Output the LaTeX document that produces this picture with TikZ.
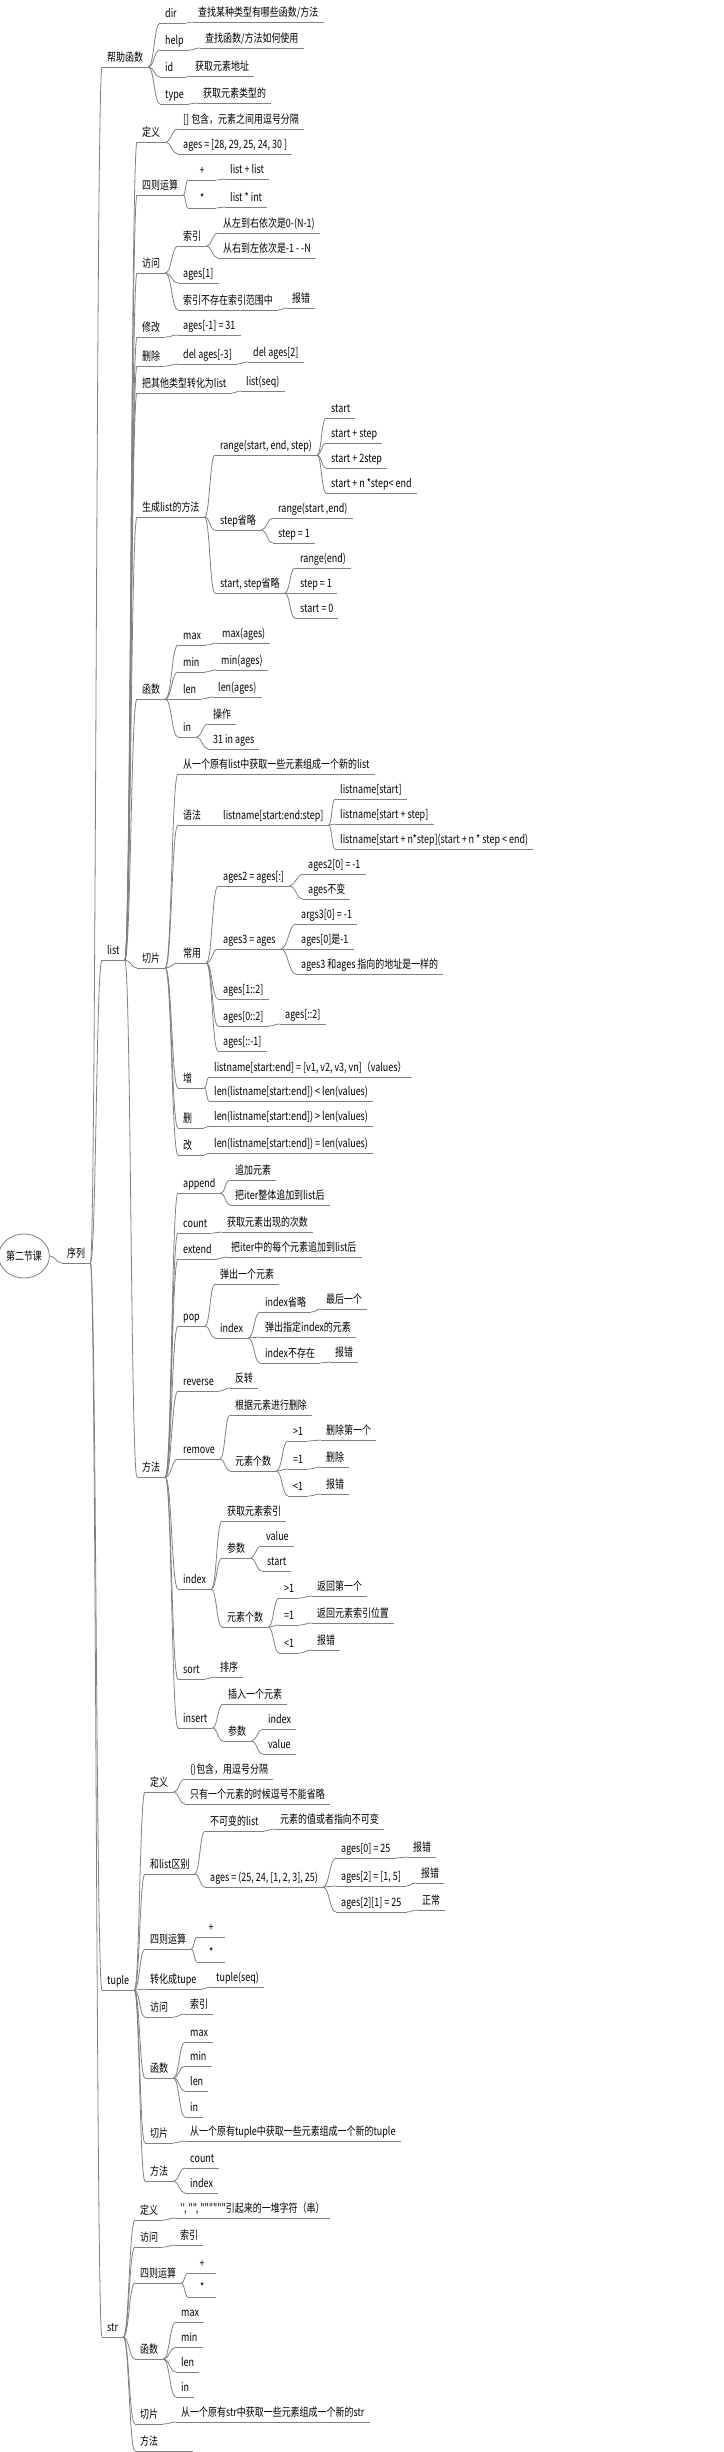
\documentclass[tikz,border=0pt]{standalone}
\usepackage{fontspec}
\setmainfont{Noto Sans CJK SC}[FakeStretch=0.78,Ligatures=TeXOff]
\usepackage{tikz}
\usetikzlibrary{calc,shapes.geometric}
\definecolor{linegray}{RGB}{128,128,128}

\tikzset{
  mm/.style={anchor=south west,inner xsep=5pt,inner ysep=3pt,
    text height=9pt,text depth=2.5pt,font=\fontsize{11.5}{13}\selectfont,
    append after command={(\tikzlastnode.south west) edge[draw=linegray,line width=0.8pt] (\tikzlastnode.south east)}},
  shortbox/.style={text width=16pt},
  symbox/.style={minimum width=28pt},
  link/.style={draw=linegray,line width=0.8pt,
    to path={let \p1=(\tikztostart), \p2=(\tikztotarget) in
      .. controls ({0.5*\x1+0.5*\x2},\y1) and ({0.5*\x1+0.5*\x2},\y2) .. (\tikztotarget)}},
}

\begin{document}
\begin{tikzpicture}[x=1pt,y=-1pt]
\useasboundingbox (0,0) rectangle (723,2452);

    \node[draw=linegray,line width=0.8pt,ellipse,minimum width=48pt,minimum height=44pt,inner sep=0pt,font=\fontsize{11.5}{13}\selectfont] (root) at (24,1256) {第二节课};
    \node[mm] (seq) at (62,1263) {序列};

    % help
    \node[mm] (help)   at (102,67)  {帮助函数};
    \node[mm,shortbox] (hdir) at (160,23) {dir};
    \node[mm] (hdirT)  at (193,22)  {查找某种类型有哪些函数/方法};
    \node[mm] (hhelp)  at (160,50)  {help};
    \node[mm] (hhelpT) at (200,48)  {查找函数/方法如何使用};
    \node[mm,shortbox] (hid) at (160,77) {id};
    \node[mm] (hidT)   at (190,76)  {获取元素地址};
    \node[mm] (htype)  at (160,104) {type};
    \node[mm] (htypeT) at (198,103) {获取元素类型的};

    % list
    \node[mm] (list)    at (102,960) {list};
    \node[mm] (ldef)    at (137,142) {定义};
    \node[mm] (ldefA)   at (178,129) {[] 包含，元素之间用逗号分隔};
    \node[mm] (ldefB)   at (178,154) {ages = [28, 29, 25, 24, 30 ]};
    \node[mm] (lops)    at (137,195) {四则运算};
    \node[mm,symbox] (lplus)  at (188,180) {+};
    \node[mm] (lplusA)  at (225,179) {list + list};
    \node[mm,symbox] (ltimes) at (188,208) {*};
    \node[mm] (ltimesA) at (225,207) {list * int};
    \node[mm] (lget)    at (137,273) {访问};
    \node[mm] (lidx)    at (178,246) {索引};
    \node[mm] (lidxA)   at (218,233) {从左到右依次是0-(N-1)};
    \node[mm] (lidxB)   at (218,258) {从右到左依次是-1 - -N};
    \node[mm] (lgetB)   at (178,283) {ages[1]};
    \node[mm] (lgetC)   at (178,310) {索引不存在索引范围中};
    \node[mm] (lgetCA)  at (287,308) {报错};
    \node[mm] (lset)    at (137,337) {修改};
    \node[mm] (lsetA)   at (178,335) {ages[-1] = 31};
    \node[mm] (ldel)    at (137,366) {删除};
    \node[mm] (ldelA)   at (178,364) {del ages[-3]};
    \node[mm] (ldelAA)  at (248,362) {del ages[2]};
    \node[mm] (lconv)   at (137,393) {把其他类型转化为list};
    \node[mm] (lconvA)  at (241,391) {list(seq)};
    \node[mm] (lgen)    at (137,517) {生成list的方法};
    \node[mm] (lrng)    at (215,455) {range(start, end, step)};
    \node[mm] (lrngA)   at (326,418) {start};
    \node[mm] (lrngB)   at (326,443) {start + step};
    \node[mm] (lrngC)   at (326,468) {start + 2step};
    \node[mm] (lrngD)   at (326,493) {start + n *step< end};
    \node[mm] (lnostep)  at (215,530) {step省略};
    \node[mm] (lnostepA) at (273,518) {range(start ,end)};
    \node[mm] (lnostepB) at (273,543) {step = 1};
    \node[mm] (lnoboth)  at (215,593) {start, step省略};
    \node[mm] (lnobothA) at (295,568) {range(end)};
    \node[mm] (lnobothB) at (295,593) {step = 1};
    \node[mm] (lnobothC) at (295,618) {start = 0};
    \node[mm] (lfun)    at (137,699) {函数};
    \node[mm] (lmax)    at (178,645) {max};
    \node[mm] (lmaxA)   at (217,643) {max(ages)};
    \node[mm] (lmin)    at (178,672) {min};
    \node[mm] (lminA)   at (216,670) {min(ages)};
    \node[mm] (llen)    at (178,699) {len};
    \node[mm] (llenA)   at (213,697) {len(ages)};
    \node[mm] (lin)     at (178,737) {in};
    \node[mm] (linA)    at (208,724) {操作};
    \node[mm] (linB)    at (208,749) {31 in ages};
    \node[mm] (lslice)  at (137,968) {切片};
    \node[mm] (lsl0)    at (178,774) {从一个原有list中获取一些元素组成一个新的list};
    \node[mm] (lsyn)    at (178,825) {语法};
    \node[mm] (lsynA)   at (218,825) {listname[start:end:step]};
    \node[mm] (lsynAA)  at (335,799) {listname[start]};
    \node[mm] (lsynAB)  at (335,824) {listname[start + step]};
    \node[mm] (lsynAC)  at (335,849) {listname[start + n*step](start + n * step < end)};
    \node[mm] (lcom)    at (178,963) {常用};
    \node[mm] (lcomA)   at (218,886) {ages2 = ages[:]};
    \node[mm] (lcomAA)  at (303,874) {ages2[0] = -1};
    \node[mm] (lcomAB)  at (303,899) {ages不变};
    \node[mm] (lcomB)   at (218,949) {ages3 = ages};
    \node[mm] (lcomBA)  at (296,924) {args3[0] = -1};
    \node[mm] (lcomBB)  at (296,949) {ages[0]是-1};
    \node[mm] (lcomBC)  at (296,974) {ages3 和ages 指向的地址是一样的};
    \node[mm] (lcomC)   at (218,999) {ages[1::2]};
    \node[mm] (lcomD)   at (218,1026) {ages[0::2]};
    \node[mm] (lcomDA)  at (280,1024) {ages[::2]};
    \node[mm] (lcomE)   at (218,1051) {ages[::-1]};
    \node[mm,shortbox] (ladd) at (178,1088) {增};
    \node[mm] (laddA)   at (209,1077) {listname[start:end] = [v1, v2, v3, vn]（values）};
    \node[mm] (laddB)   at (209,1101) {len(listname[start:end]) < len(values)};
    \node[mm,shortbox] (lrem) at (178,1128) {删};
    \node[mm] (lremA)   at (209,1126) {len(listname[start:end]) > len(values)};
    \node[mm,shortbox] (lmod) at (178,1155) {改};
    \node[mm] (lmodA)   at (209,1153) {len(listname[start:end]) = len(values)};

    % list methods
    \node[mm] (lmeth)     at (137,1477) {方法};
    \node[mm] (mapp)      at (178,1193) {append};
    \node[mm] (mappA)     at (230,1180) {追加元素};
    \node[mm] (mappB)     at (230,1205) {把iter整体追加到list后};
    \node[mm] (mcnt)      at (178,1233) {count};
    \node[mm] (mcntA)     at (222,1232) {获取元素出现的次数};
    \node[mm] (mext)      at (178,1259) {extend};
    \node[mm] (mextA)     at (226,1257) {把iter中的每个元素追加到list后};
    \node[mm] (mpop)      at (178,1326) {pop};
    \node[mm] (mpopA)     at (215,1284) {弹出一个元素};
    \node[mm] (mpopB)     at (215,1338) {index};
    \node[mm] (mpopBA)    at (260,1312) {index省略};
    \node[mm] (mpopBAA)   at (321,1309) {最后一个};
    \node[mm] (mpopBB)    at (260,1337) {弹出指定index的元素};
    \node[mm] (mpopBC)    at (260,1363) {index不存在};
    \node[mm] (mpopBCA)   at (330,1362) {报错};
    \node[mm] (mrev)      at (178,1391) {reverse};
    \node[mm] (mrevA)     at (230,1388) {反转};
    \node[mm] (mremv)     at (178,1459) {remove};
    \node[mm] (mremvA)    at (230,1415) {根据元素进行删除};
    \node[mm] (mremvB)    at (230,1471) {元素个数};
    \node[mm] (mremvBA)   at (288,1441) {>1};
    \node[mm] (mremvBAA)  at (321,1440) {删除第一个};
    \node[mm] (mremvBB)   at (288,1469) {=1};
    \node[mm] (mremvBBA)  at (321,1467) {删除};
    \node[mm] (mremvBC)   at (288,1496) {<1};
    \node[mm] (mremvBCA)  at (321,1494) {报错};
    \node[mm] (mindex)    at (178,1589) {index};
    \node[mm] (mindexA)   at (222,1521) {获取元素索引};
    \node[mm] (mindexB)   at (222,1558) {参数};
    \node[mm] (mindexBA)  at (261,1546) {value};
    \node[mm] (mindexBB)  at (262,1571) {start};
    \node[mm] (mindexC)   at (222,1627) {元素个数};
    \node[mm] (mindexCA)  at (279,1598) {>1};
    \node[mm] (mindexCAA) at (312,1596) {返回第一个};
    \node[mm] (mindexCB)  at (279,1625) {=1};
    \node[mm] (mindexCBA) at (312,1623) {返回元素索引位置};
    \node[mm] (mindexCC)  at (279,1653) {<1};
    \node[mm] (mindexCCA) at (312,1650) {报错};
    \node[mm] (msort)     at (178,1679) {sort};
    \node[mm] (msortA)    at (215,1677) {排序};
    \node[mm] (mins)      at (178,1728) {insert};
    \node[mm] (minsA)     at (223,1704) {插入一个元素};
    \node[mm] (minsB)     at (223,1741) {参数};
    \node[mm] (minsBA)    at (263,1729) {index};
    \node[mm] (minsBB)    at (263,1754) {value};

    % tuple
    \node[mm] (tuple)    at (102,1990) {tuple};
    \node[mm] (tdef)     at (145,1792) {定义};
    \node[mm] (tdefA)    at (185,1779) {()包含，用逗号分隔};
    \node[mm] (tdefB)    at (185,1804) {只有一个元素的时候逗号不能省略};
    \node[mm] (tdiff)    at (145,1874) {和list区别};
    \node[mm] (tdiffA)   at (205,1831) {不可变的list};
    \node[mm] (tdiffAA)  at (275,1829) {元素的值或者指向不可变};
    \node[mm] (tdiffB)   at (205,1887) {ages = (25, 24, [1, 2, 3], 25)};
    \node[mm] (tdiffBA)  at (336,1858) {ages[0] = 25};
    \node[mm] (tdiffBAA) at (408,1857) {报错};
    \node[mm] (tdiffBB)  at (336,1886) {ages[2] = [1, 5]};
    \node[mm] (tdiffBBA) at (416,1883) {报错};
    \node[mm] (tdiffBC)  at (336,1912) {ages[2][1] = 25};
    \node[mm] (tdiffBCA) at (417,1910) {正常};
    \node[mm] (tops)     at (145,1949) {四则运算};
    \node[mm,symbox] (tplus)  at (197,1937) {+};
    \node[mm,symbox] (ttimes) at (197,1962) {*};
    \node[mm] (tconv)    at (145,1989) {转化成tupe};
    \node[mm] (tconvA)   at (211,1987) {tuple(seq)};
    \node[mm] (tget)     at (145,2017) {访问};
    \node[mm] (tgetA)    at (185,2014) {索引};
    \node[mm] (tfun)     at (145,2078) {函数};
    \node[mm] (tmax)     at (185,2042) {max};
    \node[mm] (tmin)     at (185,2066) {min};
    \node[mm] (tlen)     at (185,2091) {len};
    \node[mm] (tin)      at (185,2117) {in};
    \node[mm] (tslice)   at (145,2143) {切片};
    \node[mm] (tsliceA)  at (185,2141) {从一个原有tuple中获取一些元素组成一个新的tuple};
    \node[mm] (tmeth)    at (145,2181) {方法};
    \node[mm] (tcnt)     at (185,2168) {count};
    \node[mm] (tidx)     at (185,2193) {index};

    % str
    \node[mm] (str)     at (102,2337) {str};
    \node[mm] (sdef)    at (135,2220) {定义};
    \node[mm] (sdefA)   at (175,2218) {'', "", """"""引起来的一堆字符（串）};
    \node[mm] (sget)    at (135,2247) {访问};
    \node[mm] (sgetA)   at (175,2245) {索引};
    \node[mm] (sops)    at (135,2283) {四则运算};
    \node[mm,symbox] (splus)  at (188,2273) {+};
    \node[mm,symbox] (stimes) at (188,2297) {*};
    \node[mm] (sfun)    at (135,2359) {函数};
    \node[mm] (smax)    at (176,2322) {max};
    \node[mm] (smin)    at (176,2347) {min};
    \node[mm] (slen)    at (176,2372) {len};
    \node[mm] (sIn)     at (176,2397) {in};
    \node[mm] (sslice)  at (135,2424) {切片};
    \node[mm] (ssliceA) at (176,2422) {从一个原有str中获取一些元素组成一个新的str};
    \node[mm,text width=48pt] (smeth) at (135,2451) {方法};

    \draw[link] (root.east) to (seq.south west);
    \draw[link] (seq.south east) to (help.south west);
    \draw[link] (seq.south east) to (list.south west);
    \draw[link] (seq.south east) to (tuple.south west);
    \draw[link] (seq.south east) to (str.south west);

    \draw[link] (help.south east) to (hdir.south west);
    \draw[link] (help.south east) to (hhelp.south west);
    \draw[link] (help.south east) to (hid.south west);
    \draw[link] (help.south east) to (htype.south west);
    \draw[link] (hdir.south east) to (hdirT.south west);
    \draw[link] (hhelp.south east) to (hhelpT.south west);
    \draw[link] (hid.south east) to (hidT.south west);
    \draw[link] (htype.south east) to (htypeT.south west);

    \draw[link] (list.south east) to (ldef.south west);
    \draw[link] (list.south east) to (lops.south west);
    \draw[link] (list.south east) to (lget.south west);
    \draw[link] (list.south east) to (lset.south west);
    \draw[link] (list.south east) to (ldel.south west);
    \draw[link] (list.south east) to (lconv.south west);
    \draw[link] (list.south east) to (lgen.south west);
    \draw[link] (list.south east) to (lfun.south west);
    \draw[link] (list.south east) to (lslice.south west);
    \draw[link] (list.south east) to (lmeth.south west);

    \draw[link] (ldef.south east) to (ldefA.south west);
    \draw[link] (ldef.south east) to (ldefB.south west);
    \draw[link] (lops.south east) to (lplus.south west);
    \draw[link] (lops.south east) to (ltimes.south west);
    \draw[link] (lplus.south east) to (lplusA.south west);
    \draw[link] (ltimes.south east) to (ltimesA.south west);
    \draw[link] (lget.south east) to (lidx.south west);
    \draw[link] (lget.south east) to (lgetB.south west);
    \draw[link] (lget.south east) to (lgetC.south west);
    \draw[link] (lidx.south east) to (lidxA.south west);
    \draw[link] (lidx.south east) to (lidxB.south west);
    \draw[link] (lgetC.south east) to (lgetCA.south west);
    \draw[link] (lset.south east) to (lsetA.south west);
    \draw[link] (ldel.south east) to (ldelA.south west);
    \draw[link] (ldelA.south east) to (ldelAA.south west);
    \draw[link] (lconv.south east) to (lconvA.south west);
    \draw[link] (lgen.south east) to (lrng.south west);
    \draw[link] (lgen.south east) to (lnostep.south west);
    \draw[link] (lgen.south east) to (lnoboth.south west);
    \draw[link] (lrng.south east) to (lrngA.south west);
    \draw[link] (lrng.south east) to (lrngB.south west);
    \draw[link] (lrng.south east) to (lrngC.south west);
    \draw[link] (lrng.south east) to (lrngD.south west);
    \draw[link] (lnostep.south east) to (lnostepA.south west);
    \draw[link] (lnostep.south east) to (lnostepB.south west);
    \draw[link] (lnoboth.south east) to (lnobothA.south west);
    \draw[link] (lnoboth.south east) to (lnobothB.south west);
    \draw[link] (lnoboth.south east) to (lnobothC.south west);
    \draw[link] (lfun.south east) to (lmax.south west);
    \draw[link] (lfun.south east) to (lmin.south west);
    \draw[link] (lfun.south east) to (llen.south west);
    \draw[link] (lfun.south east) to (lin.south west);
    \draw[link] (lmax.south east) to (lmaxA.south west);
    \draw[link] (lmin.south east) to (lminA.south west);
    \draw[link] (llen.south east) to (llenA.south west);
    \draw[link] (lin.south east) to (linA.south west);
    \draw[link] (lin.south east) to (linB.south west);
    \draw[link] (lslice.south east) to (lsl0.south west);
    \draw[link] (lslice.south east) to (lsyn.south west);
    \draw[link] (lslice.south east) to (lcom.south west);
    \draw[link] (lslice.south east) to (ladd.south west);
    \draw[link] (lslice.south east) to (lrem.south west);
    \draw[link] (lslice.south east) to (lmod.south west);
    \draw[link] (lsyn.south east) to (lsynA.south west);
    \draw[link] (lsynA.south east) to (lsynAA.south west);
    \draw[link] (lsynA.south east) to (lsynAB.south west);
    \draw[link] (lsynA.south east) to (lsynAC.south west);
    \draw[link] (lcom.south east) to (lcomA.south west);
    \draw[link] (lcom.south east) to (lcomB.south west);
    \draw[link] (lcom.south east) to (lcomC.south west);
    \draw[link] (lcom.south east) to (lcomD.south west);
    \draw[link] (lcom.south east) to (lcomE.south west);
    \draw[link] (lcomA.south east) to (lcomAA.south west);
    \draw[link] (lcomA.south east) to (lcomAB.south west);
    \draw[link] (lcomB.south east) to (lcomBA.south west);
    \draw[link] (lcomB.south east) to (lcomBB.south west);
    \draw[link] (lcomB.south east) to (lcomBC.south west);
    \draw[link] (lcomD.south east) to (lcomDA.south west);
    \draw[link] (ladd.south east) to (laddA.south west);
    \draw[link] (ladd.south east) to (laddB.south west);
    \draw[link] (lrem.south east) to (lremA.south west);
    \draw[link] (lmod.south east) to (lmodA.south west);

    \draw[link] (lmeth.south east) to (mapp.south west);
    \draw[link] (lmeth.south east) to (mcnt.south west);
    \draw[link] (lmeth.south east) to (mext.south west);
    \draw[link] (lmeth.south east) to (mpop.south west);
    \draw[link] (lmeth.south east) to (mrev.south west);
    \draw[link] (lmeth.south east) to (mremv.south west);
    \draw[link] (lmeth.south east) to (mindex.south west);
    \draw[link] (lmeth.south east) to (msort.south west);
    \draw[link] (lmeth.south east) to (mins.south west);
    \draw[link] (mapp.south east) to (mappA.south west);
    \draw[link] (mapp.south east) to (mappB.south west);
    \draw[link] (mcnt.south east) to (mcntA.south west);
    \draw[link] (mext.south east) to (mextA.south west);
    \draw[link] (mpop.south east) to (mpopA.south west);
    \draw[link] (mpop.south east) to (mpopB.south west);
    \draw[link] (mpopB.south east) to (mpopBA.south west);
    \draw[link] (mpopB.south east) to (mpopBB.south west);
    \draw[link] (mpopB.south east) to (mpopBC.south west);
    \draw[link] (mpopBA.south east) to (mpopBAA.south west);
    \draw[link] (mpopBC.south east) to (mpopBCA.south west);
    \draw[link] (mrev.south east) to (mrevA.south west);
    \draw[link] (mremv.south east) to (mremvA.south west);
    \draw[link] (mremv.south east) to (mremvB.south west);
    \draw[link] (mremvB.south east) to (mremvBA.south west);
    \draw[link] (mremvB.south east) to (mremvBB.south west);
    \draw[link] (mremvB.south east) to (mremvBC.south west);
    \draw[link] (mremvBA.south east) to (mremvBAA.south west);
    \draw[link] (mremvBB.south east) to (mremvBBA.south west);
    \draw[link] (mremvBC.south east) to (mremvBCA.south west);
    \draw[link] (mindex.south east) to (mindexA.south west);
    \draw[link] (mindex.south east) to (mindexB.south west);
    \draw[link] (mindex.south east) to (mindexC.south west);
    \draw[link] (mindexB.south east) to (mindexBA.south west);
    \draw[link] (mindexB.south east) to (mindexBB.south west);
    \draw[link] (mindexC.south east) to (mindexCA.south west);
    \draw[link] (mindexC.south east) to (mindexCB.south west);
    \draw[link] (mindexC.south east) to (mindexCC.south west);
    \draw[link] (mindexCA.south east) to (mindexCAA.south west);
    \draw[link] (mindexCB.south east) to (mindexCBA.south west);
    \draw[link] (mindexCC.south east) to (mindexCCA.south west);
    \draw[link] (msort.south east) to (msortA.south west);
    \draw[link] (mins.south east) to (minsA.south west);
    \draw[link] (mins.south east) to (minsB.south west);
    \draw[link] (minsB.south east) to (minsBA.south west);
    \draw[link] (minsB.south east) to (minsBB.south west);

    \draw[link] (tuple.south east) to (tdef.south west);
    \draw[link] (tuple.south east) to (tdiff.south west);
    \draw[link] (tuple.south east) to (tops.south west);
    \draw[link] (tuple.south east) to (tconv.south west);
    \draw[link] (tuple.south east) to (tget.south west);
    \draw[link] (tuple.south east) to (tfun.south west);
    \draw[link] (tuple.south east) to (tslice.south west);
    \draw[link] (tuple.south east) to (tmeth.south west);
    \draw[link] (tdef.south east) to (tdefA.south west);
    \draw[link] (tdef.south east) to (tdefB.south west);
    \draw[link] (tdiff.south east) to (tdiffA.south west);
    \draw[link] (tdiff.south east) to (tdiffB.south west);
    \draw[link] (tdiffA.south east) to (tdiffAA.south west);
    \draw[link] (tdiffB.south east) to (tdiffBA.south west);
    \draw[link] (tdiffB.south east) to (tdiffBB.south west);
    \draw[link] (tdiffB.south east) to (tdiffBC.south west);
    \draw[link] (tdiffBA.south east) to (tdiffBAA.south west);
    \draw[link] (tdiffBB.south east) to (tdiffBBA.south west);
    \draw[link] (tdiffBC.south east) to (tdiffBCA.south west);
    \draw[link] (tops.south east) to (tplus.south west);
    \draw[link] (tops.south east) to (ttimes.south west);
    \draw[link] (tconv.south east) to (tconvA.south west);
    \draw[link] (tget.south east) to (tgetA.south west);
    \draw[link] (tfun.south east) to (tmax.south west);
    \draw[link] (tfun.south east) to (tmin.south west);
    \draw[link] (tfun.south east) to (tlen.south west);
    \draw[link] (tfun.south east) to (tin.south west);
    \draw[link] (tslice.south east) to (tsliceA.south west);
    \draw[link] (tmeth.south east) to (tcnt.south west);
    \draw[link] (tmeth.south east) to (tidx.south west);

    \draw[link] (str.south east) to (sdef.south west);
    \draw[link] (str.south east) to (sget.south west);
    \draw[link] (str.south east) to (sops.south west);
    \draw[link] (str.south east) to (sfun.south west);
    \draw[link] (str.south east) to (sslice.south west);
    \draw[link] (str.south east) to (smeth.south west);
    \draw[link] (sdef.south east) to (sdefA.south west);
    \draw[link] (sget.south east) to (sgetA.south west);
    \draw[link] (sops.south east) to (splus.south west);
    \draw[link] (sops.south east) to (stimes.south west);
    \draw[link] (sfun.south east) to (smax.south west);
    \draw[link] (sfun.south east) to (smin.south west);
    \draw[link] (sfun.south east) to (slen.south west);
    \draw[link] (sfun.south east) to (sIn.south west);
    \draw[link] (sslice.south east) to (ssliceA.south west);

\end{tikzpicture}
\end{document}
